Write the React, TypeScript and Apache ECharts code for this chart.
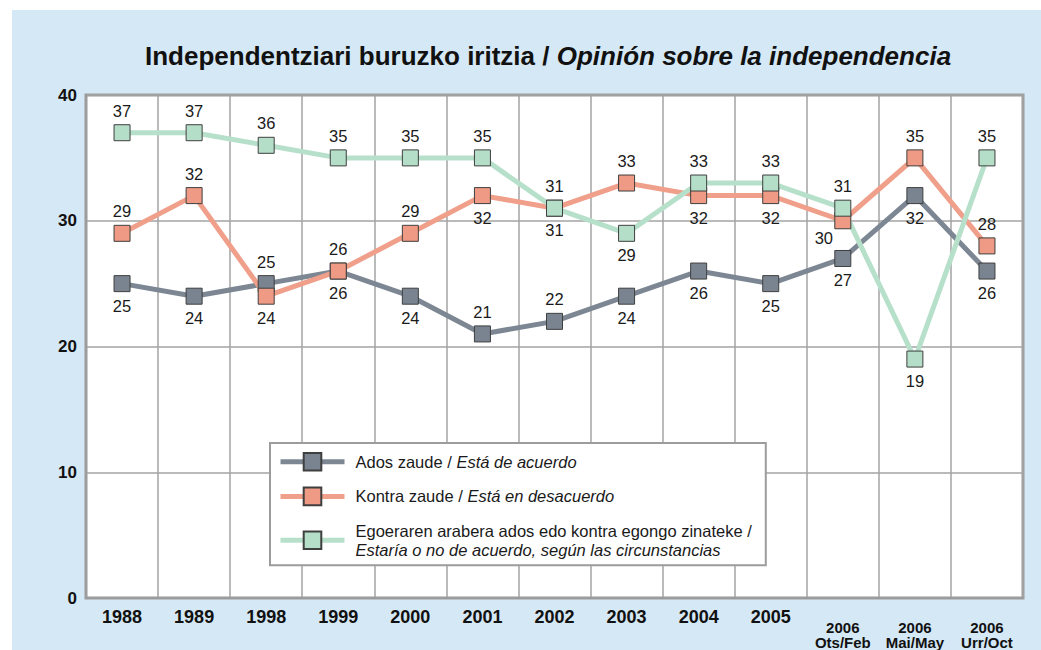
import React, { useEffect, useRef } from "react";
import * as echarts from "echarts";

const categories = [
  "1988", "1989", "1998", "1999", "2000", "2001", "2002", "2003", "2004", "2005",
  "2006\nOts/Feb", "2006\nMai/May", "2006\nUrr/Oct",
];
const adosValues = [25, 24, 25, 26, 24, 21, 22, 24, 26, 25, 27, 32, 26];
const kontraValues = [29, 32, 24, 26, 29, 32, 31, 33, 32, 32, 30, 35, 28];
const egoeraValues = [37, 37, 36, 35, 35, 35, 31, 29, 33, 33, 31, 19, 35];

const adosLabelPos = ["bottom", "bottom", "top", "top", "bottom", "top", "top", "bottom", "bottom", "bottom", "bottom", "bottom", "bottom"];
const kontraLabelPos = ["top", "top", "bottom", "bottom", "top", "bottom", "bottom", "top", "bottom", "bottom", "bottomLeft", "top", "top"];
const egoeraLabelPos = ["top", "top", "top", "top", "top", "top", "top", "bottom", "top", "top", "top", "bottom", "top"];

const seriesNames = [
  "Ados zaude / {i|Está de acuerdo}",
  "Kontra zaude / {i|Está en desacuerdo}",
  "Egoeraren arabera ados edo kontra egongo zinateke /\n{i|Estaría o no de acuerdo, según las circunstancias}",
];

const FONT = "'Liberation Sans', Arial, sans-serif";

function buildData(values: number[], positions: string[]) {
  return values.map((v, i) => {
    const p = positions[i];
    if (p === "bottomLeft") {
      return { value: v, label: { position: "bottom", offset: [-19, -5] } };
    }
    return { value: v, label: { position: p } };
  });
}

function makeSeries(name: string, values: number[], positions: string[], line: string, fill: string) {
  return {
    type: "line",
    name,
    data: buildData(values, positions),
    symbol: "rect",
    symbolSize: 16,
    lineStyle: { color: line, width: 5 },
    itemStyle: { color: fill, borderColor: "#3f3f3f", borderWidth: 1 },
    label: {
      show: true,
      distance: 5,
      fontFamily: FONT,
      fontSize: 16.5,
      color: "#1a1a1a",
    },
    emphasis: { disabled: true },
  };
}

export default function App() {
  const ref = useRef<HTMLDivElement>(null);
  useEffect(() => {
    if (!ref.current) return;
    const chart = echarts.init(ref.current, null, { renderer: "svg" });
    chart.setOption({
      animation: false,
      textStyle: { fontFamily: FONT },
      graphic: [
        {
          type: "rect",
          silent: true,
          z: -100,
          shape: { x: 12, y: 10, width: 1029, height: 640 },
          style: { fill: "#d5e8f5" },
        },
      ],
      title: {
        text: "{b|Independentziari buruzko iritzia / }{i|Opinión sobre la independencia}",
        left: 140,
        top: 38,
        textStyle: {
          rich: {
            b: { fontFamily: FONT, fontSize: 26, fontWeight: "bold", color: "#111" },
            i: { fontFamily: FONT, fontSize: 26, fontWeight: "bold", fontStyle: "italic", color: "#111" },
          },
        },
      },
      legend: {
        orient: "vertical",
        left: 270,
        top: 443,
        backgroundColor: "#ffffff",
        borderColor: "#9c9c9c",
        borderWidth: 2,
        borderRadius: 0,
        padding: [9, 14, 6, 8],
        itemWidth: 64,
        itemHeight: 22,
        itemGap: 15,
        selectedMode: false,
        data: seriesNames,
        lineStyle: { width: 5 },
        formatter: (n: string) => n,
        textStyle: {
          fontFamily: FONT,
          fontSize: 16.5,
          color: "#1a1a1a",
          lineHeight: 19,
          padding: [0, 0, 0, 6],
          rich: {
            i: { fontFamily: FONT, fontSize: 16.5, fontStyle: "italic", color: "#1a1a1a", lineHeight: 19 },
          },
        },
      },
      grid: {
        left: 86,
        right: 18,
        top: 95,
        bottom: 46,
        show: true,
        backgroundColor: "#ffffff",
        borderColor: "#9a9a9a",
        borderWidth: 3,
      },
      xAxis: {
        type: "category",
        data: categories,
        boundaryGap: true,
        axisLine: { show: true, lineStyle: { color: "#9c9c9c", width: 2 } },
        axisTick: { show: false },
        splitLine: { show: true, interval: 0, lineStyle: { color: "#a3a3a3", width: 1.5 } },
        axisLabel: {
          interval: 0,
          margin: 10,
          fontFamily: FONT,
          fontSize: 18,
          fontWeight: "bold",
          color: "#111",
          formatter: (v: string) => {
            if (v.indexOf("\n") >= 0) {
              const parts = v.split("\n");
              return "{e| }\n{m|" + parts[0] + "}\n{m|" + parts[1] + "}";
            }
            return "{y|" + v + "}";
          },
          rich: {
            y: { fontFamily: FONT, fontSize: 18, fontWeight: "bold", color: "#111", lineHeight: 18 },
            e: { fontSize: 6, lineHeight: 12 },
            m: { fontFamily: FONT, fontSize: 15, fontWeight: "bold", color: "#111", lineHeight: 15 },
          },
        },
      },
      yAxis: {
        type: "value",
        min: 0,
        max: 40,
        interval: 10,
        axisLine: { show: true, lineStyle: { color: "#9c9c9c", width: 2 } },
        axisTick: { show: false },
        splitLine: { show: true, lineStyle: { color: "#a3a3a3", width: 1.5 } },
        axisLabel: {
          margin: 9,
          fontFamily: FONT,
          fontSize: 17,
          fontWeight: "bold",
          color: "#111",
        },
      },
      series: [
        makeSeries(seriesNames[0], adosValues, adosLabelPos, "#7c8793", "#7a8491"),
        makeSeries(seriesNames[1], kontraValues, kontraLabelPos, "#f0a08a", "#ef9a84"),
        makeSeries(seriesNames[2], egoeraValues, egoeraLabelPos, "#b7e0cb", "#b4dec7"),
      ],
    });
    return () => chart.dispose();
  }, []);
  return (
    <div
      ref={ref}
      style={{ position: "absolute", left: 0, top: 0, width: 1041, height: 650 }}
    />
  );
}
